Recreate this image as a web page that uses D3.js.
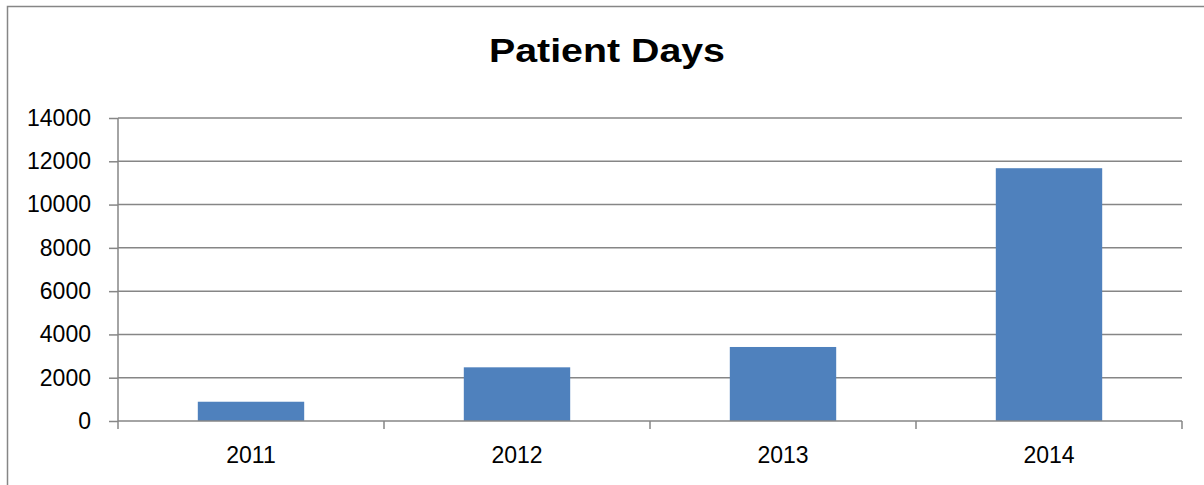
<!DOCTYPE html>
<html>
<head>
<meta charset="utf-8">
<script src="https://cdn.jsdelivr.net/npm/d3@7"></script>
<style>
  body { margin: 0; background: #fff; }
  text { font-family: "Liberation Sans", Arial, sans-serif; fill: #000; }
</style>
</head>
<body>
<div id="container"></div>
<script>
var width = 1204,
    height = 485;

// chart data
var title = "Patient Days";
var years = ["2011", "2012", "2013", "2014"];
var patientDays = [890, 2480, 3420, 11680];
var yTicks = [0, 2000, 4000, 6000, 8000, 10000, 12000, 14000];

var svg = d3.select("#container").append("svg")
    .attr("width", width)
    .attr("height", height);

var margin = {left: 118, right: 22, top: 118, bottom: 64};
var gridColor = "#868686";

// chart border
svg.append("rect")
    .attr("x", 7.5)
    .attr("y", 6.5)
    .attr("width", width + 20)
    .attr("height", height + 20)
    .attr("fill", "none")
    .attr("stroke", gridColor)
    .attr("stroke-width", 1.5);

svg.append("text")
    .attr("x", 607)
    .attr("y", 62)
    .attr("text-anchor", "middle")
    .attr("textLength", 236)
    .attr("lengthAdjust", "spacingAndGlyphs")
    .style("font-size", "33px")
    .style("font-weight", "bold")
    .text(title);

var x = d3.scaleBand()
    .domain(years)
    .range([margin.left, width - margin.right])
    .paddingInner(0.6)
    .paddingOuter(0.3);

var y = d3.scaleLinear()
    .domain([0, 14000])
    .range([height - margin.bottom, margin.top]);

// gridlines
svg.selectAll(".grid")
    .data(yTicks.slice(1))
    .enter().append("line")
    .attr("class", "grid")
    .attr("x1", margin.left)
    .attr("x2", width - margin.right)
    .attr("y1", d => y(d))
    .attr("y2", d => y(d))
    .attr("stroke", gridColor)
    .attr("stroke-width", 1.5);

svg.selectAll(".bar")
    .data(patientDays)
    .enter().append("rect")
    .attr("class", "bar")
    .attr("x", (d, i) => x(years[i]))
    .attr("y", d => y(d))
    .attr("width", x.bandwidth())
    .attr("height", d => y(0) - y(d))
    .attr("fill", "#4f81bd");

// y axis
var yAxis = svg.append("g")
    .attr("transform", "translate(" + margin.left + ",0)")
    .call(d3.axisLeft(y).tickValues(yTicks).tickSize(9).tickPadding(18).tickFormat(d3.format("d")));
yAxis.selectAll("line, path").attr("stroke", gridColor).attr("stroke-width", 1.5);
yAxis.select(".domain").attr("d", "M0," + y(0) + "V" + y(14000));
yAxis.selectAll("text").style("font-size", "23px").style("font-family", null);

// x axis, ticks sit on category boundaries
var bounds = d3.range(years.length + 1).map(i => margin.left + i * x.step());
var xAxis = svg.append("g")
    .attr("transform", "translate(0," + y(0) + ")");
xAxis.append("line")
    .attr("x1", margin.left)
    .attr("x2", width - margin.right)
    .attr("stroke", gridColor)
    .attr("stroke-width", 1.5);
xAxis.selectAll(".xt")
    .data(bounds)
    .enter().append("line")
    .attr("x1", d => d)
    .attr("x2", d => d)
    .attr("y1", 0)
    .attr("y2", 8)
    .attr("stroke", gridColor)
    .attr("stroke-width", 1.5);
xAxis.selectAll(".xl")
    .data(years)
    .enter().append("text")
    .attr("x", d => x(d) + x.bandwidth() / 2)
    .attr("y", 42)
    .attr("text-anchor", "middle")
    .style("font-size", "23px")
    .text(d => d);
</script>
</body>
</html>
